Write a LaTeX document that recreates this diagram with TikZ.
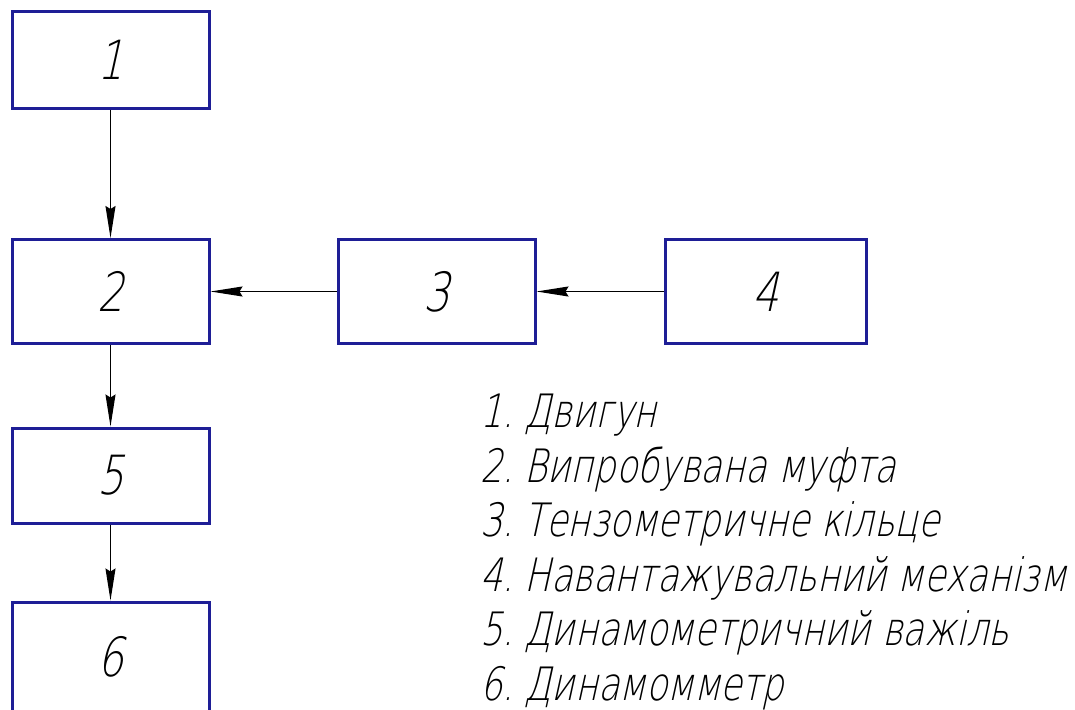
\documentclass[tikz,border=0pt]{standalone}
\usepackage{fontspec}
\newfontfamily\gost[FakeSlant=0.22,FakeStretch=0.765]{DejaVu Sans ExtraLight}
\usetikzlibrary{arrows.meta}
\definecolor{boxblue}{RGB}{30,30,150}
\tikzset{
  blk/.style={draw=boxblue, line width=3pt, minimum width=197pt, minimum height=104pt, inner sep=0pt, font=\gost\fontsize{54}{54}\selectfont},
  conn/.style={draw=black, line width=1.3pt, -{Stealth[length=32pt,width=10pt,inset=3pt]}},
  legend/.style={anchor=base west, inner sep=0pt, font=\gost\fontsize{46}{46}\selectfont}
}
\begin{document}
\begin{tikzpicture}[x=1pt,y=-1pt]
\useasboundingbox (0,0) rectangle (1075,709);
\node[blk, minimum height=96pt] (b1) at (110.5,60) {1};
\node[blk] (b2) at (110.5,291.5) {2};
\node[blk] (b3) at (436.5,291.5) {3};
\node[blk, minimum width=201pt] (b4) at (765.5,291.5) {4};
\node[blk, minimum height=95pt] (b5) at (110.5,475.5) {5};
\node[blk, minimum height=120pt] (b6) at (110.5,662) {};
\node[font=\gost\fontsize{54}{54}\selectfont, inner sep=0pt] (t6) at (110.5,657) {6};
\draw[conn] (b1) -- (b2);
\draw[conn] (b2) -- (b5);
\draw[conn] (b5) -- (b6);
\draw[conn] (b3) -- (b2);
\draw[conn] (b4) -- (b3);
\node[legend] (l1) at (480,427) {1.\kern-4pt{} Двигун};
\node[legend] (l2) at (480,482) {2.\kern-4pt{} Випробувана муфта};
\node[legend] (l3) at (480,536) {3.\kern-4pt{} Тензометричне кільце};
\node[legend] (l4) at (480,591) {4.\kern-4pt{} Навантажувальний механізм};
\node[legend] (l5) at (480,645) {5.\kern-4pt{} Динамометричний важіль};
\node[legend] (l6) at (480,700) {6.\kern-4pt{} Динамомметр};
\end{tikzpicture}
\end{document}
